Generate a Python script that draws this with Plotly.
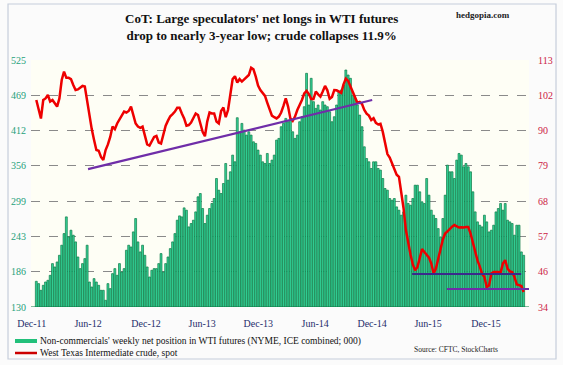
import plotly.graph_objects as go

# ---- data ----
net_longs = [
    171.1, 167.4, 156.7, 164.7, 170.0, 172.7, 180.7, 199.4, 194.0, 202.0, 212.7, 228.8, 247.4, 274.1,
    242.1, 252.8, 244.8, 234.1, 210.0, 191.4, 199.4, 207.4, 228.8, 170.0, 162.0, 175.4, 170.0, 164.7,
    156.7, 156.7, 140.7, 167.4, 159.4, 183.4, 191.4, 180.7, 199.4, 186.0, 191.4, 220.7, 228.8, 226.0,
    250.1, 271.5, 234.1, 218.1, 228.8, 212.7, 194.0, 178.0, 188.7, 191.4, 191.4, 199.4, 215.4,
    186.0, 199.4, 210.0, 223.4, 234.1, 247.4, 268.8, 275.7, 274.1, 288.5, 284.8, 258.1, 263.5, 268.8,
    282.1, 306.2, 311.5, 287.5, 263.5, 276.8, 287.5, 295.5, 303.5, 335.5, 316.8, 311.5, 327.5, 359.5,
    332.8, 346.2, 372.9, 362.2, 432.7, 410.2, 423.6, 412.9, 404.9, 410.2, 404.9, 394.2, 391.6, 380.9,
    372.9, 362.2, 359.5, 375.5, 359.5, 364.9, 372.9, 396.9, 399.6, 418.3, 423.6,
    431.6, 426.3, 428.9, 410.2, 399.6, 404.9, 426.3, 434.3, 450.3, 503.7, 453.0, 495.7, 458.4, 447.6,
    453.0, 445.0, 458.4, 453.0, 450.3, 442.3, 426.3, 434.3, 453.0, 474.3, 477.0, 485.0, 509.0, 501.0,
    495.7, 469.0, 463.6, 453.0, 436.9, 418.3, 386.2, 367.5, 362.2, 351.5, 362.2, 362.2, 351.5, 348.9,
    335.5, 319.5, 316.8, 303.5, 300.8, 303.5, 290.1, 284.8, 276.8, 282.1, 308.8,
    295.5, 292.8, 303.5, 324.8, 324.8, 314.2, 298.2, 295.5, 335.5, 308.8, 284.8, 276.8, 271.5, 255.4,
    242.1, 271.5, 308.8, 356.9, 346.2, 346.2, 335.5, 364.9, 375.5, 372.9, 354.2, 359.5, 354.2, 346.2,
    314.2, 282.1, 266.1, 260.8, 258.1, 276.8, 266.1, 250.1, 252.8, 260.8, 282.1, 287.5, 295.5, 284.8,
    295.5, 268.8, 266.1, 263.5, 244.8, 260.8, 260.8, 218.1, 212.7,
]

wti_spot = [
    100.2, 97.5, 94.3, 100.2, 100.7, 101.8, 99.7, 100.2, 99.1, 98.1, 100.7, 106.6, 109.3, 107.3,
    107.3, 106.9, 105.0, 103.4, 103.6, 104.1, 104.7, 104.5, 99.7, 94.3, 90.9, 87.4, 84.2, 84.0,
    82.0, 81.0, 84.2, 86.0, 88.4, 91.7, 90.9, 92.7, 94.1, 95.4, 96.5, 96.2, 96.7, 98.1,
    95.4, 92.7, 91.7, 91.3, 91.7, 89.0, 86.0, 85.6, 87.1, 88.4, 88.7, 86.6, 86.3,
    89.5, 92.0, 93.6, 95.0, 95.7, 96.5, 97.7, 97.7, 95.9, 94.3, 92.0, 92.2, 93.0, 94.3,
    95.9, 95.4, 92.7, 90.0, 88.6, 93.3, 96.2, 95.9, 95.9, 93.3, 92.7, 96.7, 97.8, 94.7,
    97.0, 102.9, 106.9, 107.8, 105.8, 106.9, 106.1, 106.8, 107.6, 108.2, 110.5, 110.0, 107.7, 104.8,
    103.4, 102.6, 101.5, 99.3, 97.5, 95.2, 94.7, 94.3, 94.9, 96.2, 98.3,
    100.7, 98.1, 94.3, 93.5, 94.9, 97.0, 98.4, 100.2, 102.3, 103.1, 102.1, 100.5, 100.5, 102.9,
    102.0, 101.3, 102.9, 104.7, 103.3, 100.6, 101.2, 103.4, 103.3, 102.8, 102.5, 105.2, 107.0, 106.3,
    104.6, 102.9, 100.8, 99.3, 99.6, 98.9, 97.0, 95.8, 95.2, 93.8, 94.4, 92.9, 92.4, 92.6,
    90.0, 85.8, 82.9, 81.8, 79.9, 78.1, 76.3, 75.6, 70.8, 65.5, 58.6,
    54.3, 50.8, 47.6, 45.7, 46.8, 49.5, 52.5, 51.6, 50.5, 49.8, 47.9, 44.7, 46.3, 49.0,
    52.5, 55.6, 57.5, 58.2, 59.0, 59.7, 60.2, 59.9, 59.4, 59.5, 59.4, 59.6, 59.6, 57.5,
    54.3, 51.1, 48.9, 46.9, 44.6, 43.6, 40.4, 40.9, 44.7, 45.2, 45.3, 45.2, 45.0, 47.9,
    49.0, 46.3, 45.4, 45.2, 43.6, 41.2, 41.0, 40.7, 38.8, 35.1,
]

week_index = list(range(len(net_longs)))

x_tick_pos = [-2.0, 22.4, 47.5, 71.8, 96.1, 120.7, 145.4, 169.6, 194.7]
x_tick_labels = ["Dec-11", "Jun-12", "Dec-12", "Jun-13", "Dec-13", "Jun-14", "Dec-14", "Jun-15", "Dec-15"]

left_tick_labels = ["130", "186", "243", "299", "356", "412", "469", "525"]
right_tick_labels = ["34", "46", "57", "68", "79", "90", "102", "113"]
left_min, left_max = 130, 525
right_min, right_max = 34, 113

# trend / support lines (week index, crude price)
trend_up_x = [22.4, 145.4]
trend_up_y = [78.1, 100.2]
support1_x = [162.7, 209.9]
support1_y = [44.55, 44.55]
support2_x = [177.8, 214.6]
support2_y = [39.76, 39.76]

# ---- layout geometry ----
W, H = 563, 365
L, R, T, B = 31, 529, 60, 307
PW, PH = R - L, B - T


def px(xp, yp):
    return (xp - L) / PW, (B - yp) / PH


def ticks(lo, hi, n):
    return [lo + (hi - lo) * i / (n - 1) for i in range(n)]


serif = "Liberation Serif"

fig = go.Figure()
fig.add_trace(go.Bar(
    x=week_index, y=net_longs, yaxis="y",
    marker=dict(color="#35d49a", line=dict(color="#0b7a45", width=0.7)),
    name="Non-commercials' weekly net position in WTI futures (NYME, ICE combined; 000)",
    showlegend=False,
))
fig.add_trace(go.Scatter(
    x=week_index, y=wti_spot, yaxis="y2", mode="lines",
    line=dict(color="#ee0000", width=2.5),
    name="West Texas Intermediate crude, spot", showlegend=False,
))
for xs, ys, col in [(trend_up_x, trend_up_y, "#6f2da8"),
                    (support1_x, support1_y, "#3b2a8c"),
                    (support2_x, support2_y, "#6f2da8")]:
    fig.add_trace(go.Scatter(x=xs, y=ys, yaxis="y2", mode="lines",
                             line=dict(color=col, width=2.2), showlegend=False,
                             hoverinfo="skip"))

shapes = []
# outer border
x0, y0 = px(8, 4)
x1, y1 = px(556, 359)
shapes.append(dict(type="rect", xref="paper", yref="paper", x0=x0, y0=y0, x1=x1, y1=y1,
                   line=dict(color="#c6cedb", width=1.2), layer="below"))
# legend swatches
for (xa, xb, yy, col, wdt) in [(15, 37, 341, "#22c07a", 4), (15, 37, 353, "#cc0000", 2.5)]:
    a0, b0 = px(xa, yy)
    a1, _ = px(xb, yy)
    shapes.append(dict(type="line", xref="paper", yref="paper", x0=a0, y0=b0, x1=a1, y1=b0,
                       line=dict(color=col, width=wdt)))

annotations = []
tx, ty = px(261, 27)
annotations.append(dict(xref="paper", yref="paper", x=tx, y=ty, xanchor="center", yanchor="middle",
                        text="<b>CoT: Large speculators' net longs in WTI futures<br>drop to nearly 3-year low; crude collapses 11.9%</b>",
                        showarrow=False, font=dict(family=serif, size=13, color="#111111")))
hx, hy = px(512, 15)
annotations.append(dict(xref="paper", yref="paper", x=hx, y=hy, xanchor="right", yanchor="middle",
                        text="<b>hedgopia.com</b>", showarrow=False,
                        font=dict(family=serif, size=9, color="#222222")))
lx, ly = px(38, 341)
annotations.append(dict(xref="paper", yref="paper", x=lx, y=ly, xanchor="left", yanchor="middle",
                        text="Non-commercials' weekly net position in WTI futures (NYME, ICE combined; 000)",
                        showarrow=False, font=dict(family=serif, size=9.5, color="#111111")))
lx, ly = px(38, 353)
annotations.append(dict(xref="paper", yref="paper", x=lx, y=ly, xanchor="left", yanchor="middle",
                        text="West Texas Intermediate crude, spot",
                        showarrow=False, font=dict(family=serif, size=9.5, color="#111111")))
sx, sy = px(500, 349)
annotations.append(dict(xref="paper", yref="paper", x=sx, y=sy, xanchor="right", yanchor="middle",
                        text="Source: CFTC, StockCharts", showarrow=False,
                        font=dict(family=serif, size=7.5, color="#222222")))

fig.update_layout(
    width=W, height=H,
    margin=dict(l=L, r=W - R, t=T, b=H - B, pad=0),
    paper_bgcolor="#fbfbfb",
    plot_bgcolor="#fefef5",
    bargap=0.18,
    hovermode=False,
    xaxis=dict(range=[-2.3, 213.3], tickvals=x_tick_pos, ticktext=x_tick_labels,
               showgrid=False, zeroline=False, showline=False, ticks="",
               ticklabelstandoff=9, automargin=False,
               tickfont=dict(family=serif, size=10, color="#1f2d6b")),
    yaxis=dict(range=[left_min, left_max], tickvals=ticks(left_min, left_max, 8),
               ticktext=left_tick_labels, showgrid=True, gridcolor="#8a8a8a",
               griddash="dash", gridwidth=1, zeroline=False, showline=False, ticks="",
               ticklabelstandoff=4, automargin=False,
               tickfont=dict(family=serif, size=10, color="#25a07a")),
    yaxis2=dict(range=[right_min, right_max], tickvals=ticks(right_min, right_max, 8),
                ticktext=right_tick_labels, overlaying="y", side="right", showgrid=False,
                zeroline=False, showline=False, ticks="", ticklabelstandoff=8, automargin=False,
                tickfont=dict(family=serif, size=10, color="#cc2244")),
    shapes=shapes, annotations=annotations,
)
fig.add_hline(y=left_min, line=dict(color="#0b7a45", width=1))

# the page's default 8px body margin would shift the whole figure; remove it
fig.write_html("out.html", config={"displayModeBar": False, "staticPlot": True},
               post_script="document.body.style.margin='0px';")
